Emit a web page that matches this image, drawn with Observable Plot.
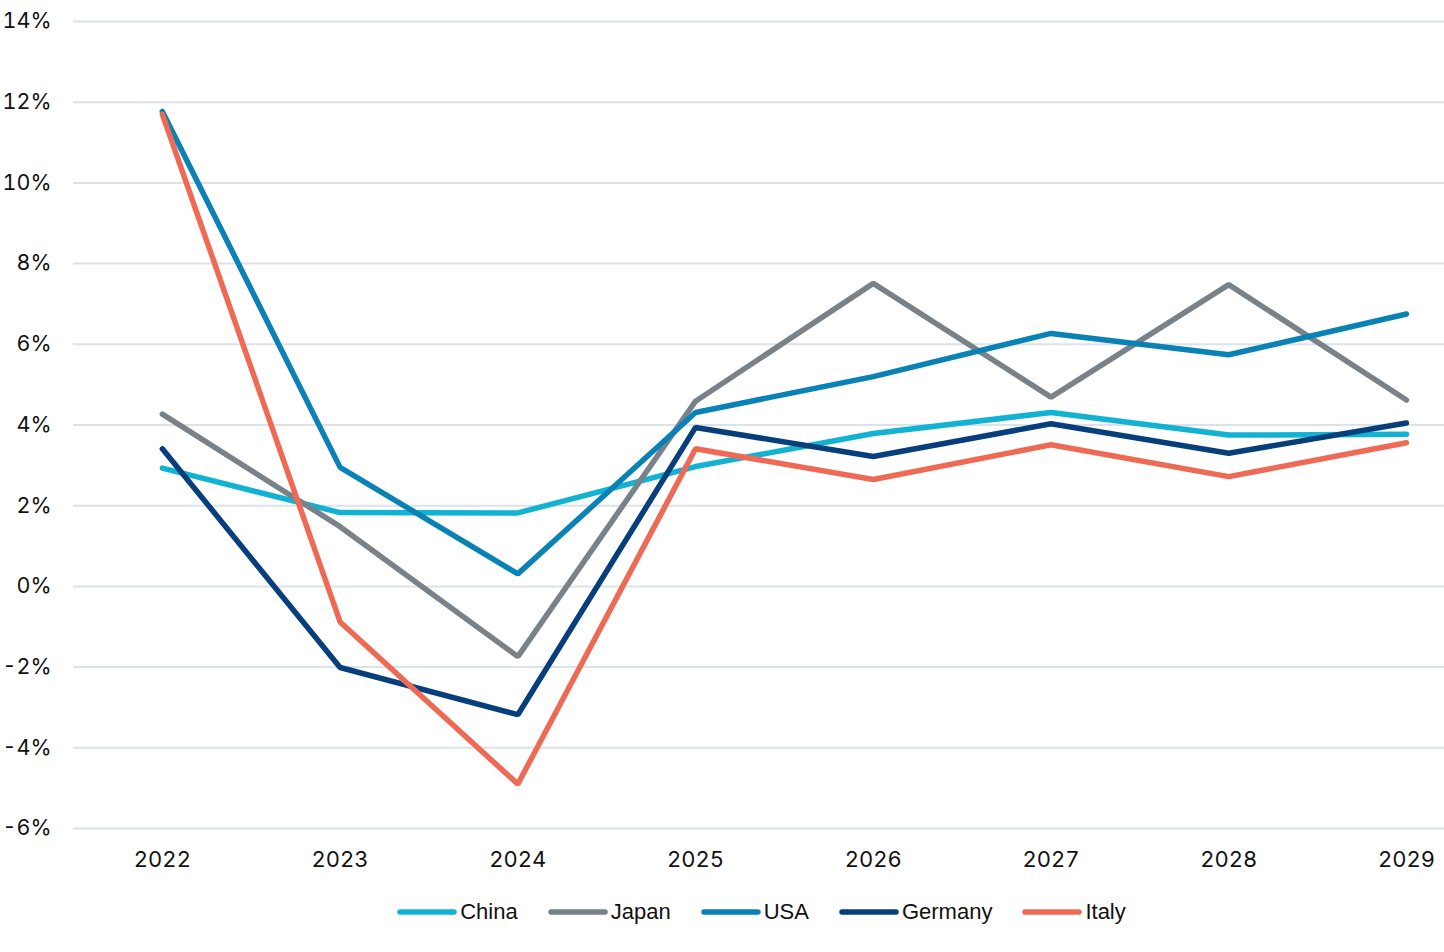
<!DOCTYPE html>
<html>
<head>
<meta charset="utf-8">
<script src="https://cdn.jsdelivr.net/npm/d3@7"></script>
<script src="https://cdn.jsdelivr.net/npm/@observablehq/plot@0.6"></script>
<style>
  html, body { margin: 0; padding: 0; background: #fff; }
  #chart svg { display: block; }
  #legend { display: flex; justify-content: center; align-items: center; padding-left: 79px; width: 1365px; margin-top: 14px; font-family: "Liberation Sans", Arial, sans-serif; font-size: 22px; color: #111; }
  .item { display: flex; align-items: center; margin: 0 15px; }
  .item svg { margin-right: 3px; }
</style>
</head>
<body>
<div id="chart"></div>
<div id="legend"></div>
<script>
const years = [2022, 2023, 2024, 2025, 2026, 2027, 2028, 2029];
const china   = [2.93, 1.83, 1.82, 2.97, 3.79, 4.31, 3.75, 3.77];
const japan   = [4.27, 1.48, -1.74, 4.59, 7.51, 4.69, 7.48, 4.62];
const usa     = [11.77, 2.95, 0.31, 4.31, 5.20, 6.27, 5.74, 6.75];
const germany = [3.41, -2.01, -3.18, 3.94, 3.22, 4.03, 3.30, 4.05];
const italy   = [11.70, -0.88, -4.90, 3.41, 2.65, 3.51, 2.72, 3.56];
const yTicks = [-6, -4, -2, 0, 2, 4, 6, 8, 10, 12, 14];

const seriesNames = ["China", "Japan", "USA", "Germany", "Italy"];
const seriesValues = [china, japan, usa, germany, italy];
const colors = ["#12b2d2", "#798288", "#0b82b5", "#073f7d", "#ee6a55"];

const data = [];
seriesNames.forEach((name, i) => {
  years.forEach((yr, j) => data.push({series: name, year: yr, value: seriesValues[i][j]}));
});

const chart = Plot.plot({
  width: 1444,
  height: 885,
  marginLeft: 73,
  marginRight: 0,
  marginTop: 21,
  marginBottom: 57,
  style: {fontFamily: "Inter, sans-serif", color: "#111", background: "#fff"},
  x: {type: "linear", domain: [2021.5, 2029.214], ticks: years, tickFormat: d => String(d)},
  y: {domain: [-6, 14], ticks: yTicks, tickFormat: d => d + "%"},
  color: {domain: seriesNames, range: colors},
  marks: [
    Plot.ruleY(yTicks, {stroke: "#dbe3e8", strokeWidth: 2}),
    Plot.axisY({ticks: yTicks, tickSize: 0, tickPadding: 22, fontSize: 21.5, tickFormat: d => d + "%", label: null}),
    Plot.axisX({ticks: years, tickSize: 0, tickPadding: 23, fontSize: 22, tickFormat: d => String(d), label: null}),
    Plot.line(data, {x: "year", y: "value", z: "series", stroke: "series", strokeWidth: 5.5, strokeLinejoin: "miter", strokeLinecap: "round"})
  ]
});
document.getElementById("chart").appendChild(chart);

const legend = document.getElementById("legend");
seriesNames.forEach((name, i) => {
  const item = document.createElement("div");
  item.className = "item";
  item.innerHTML = `<svg width="60" height="10"><line x1="3" y1="5" x2="57" y2="5" stroke="${colors[i]}" stroke-width="5.5" stroke-linecap="round"/></svg><span>${name}</span>`;
  legend.appendChild(item);
});
</script>
</body>
</html>
